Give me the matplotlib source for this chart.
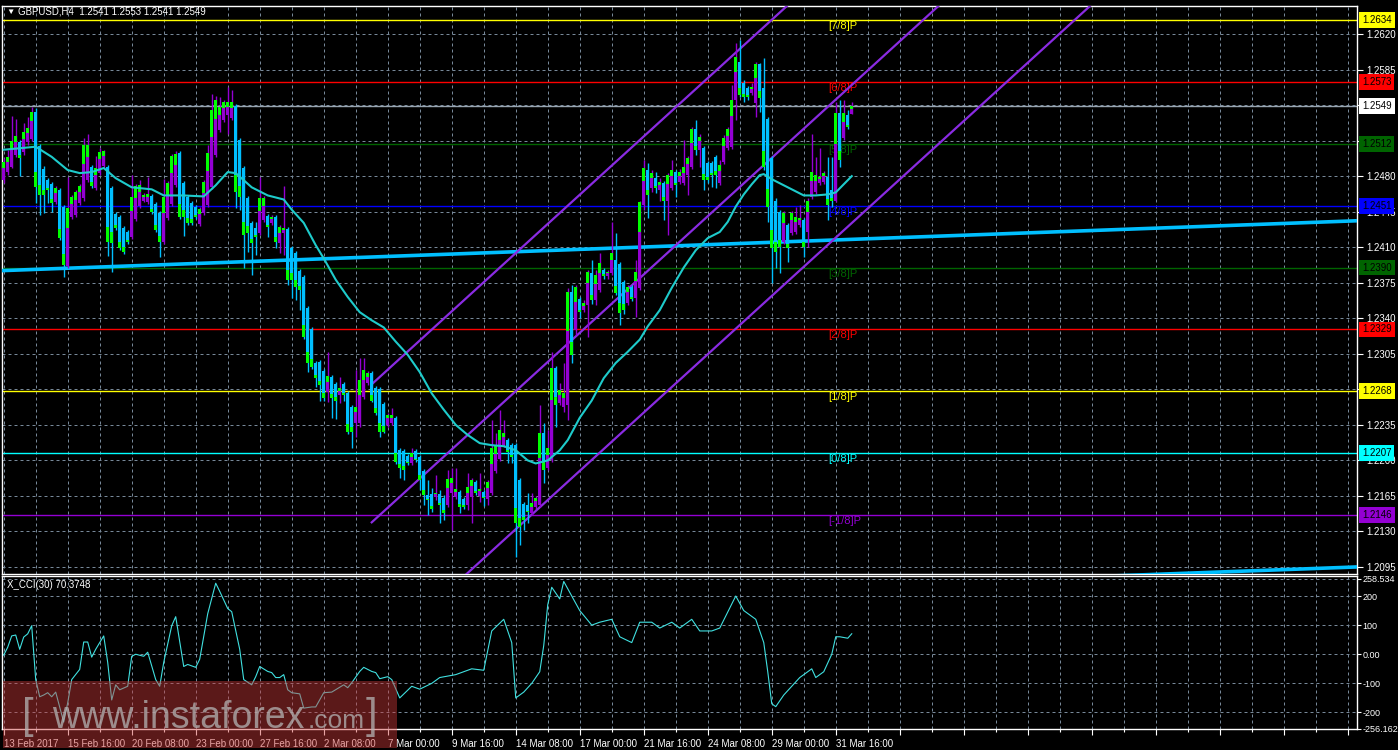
import matplotlib
matplotlib.use("Agg")
import matplotlib.pyplot as plt
from matplotlib.patches import Rectangle
from matplotlib.transforms import blended_transform_factory
import numpy as np

# ---- GBPUSD H4 candles (13 Feb 2017 00:00 .. 3 Apr 2017 08:00) ----
opens = [1.2476, 1.2484, 1.2489, 1.2501, 1.2514, 1.2504, 1.2514, 1.2517, 1.2543, 1.2510,
         1.2487, 1.2476, 1.2472, 1.2455, 1.2466, 1.2450, 1.2391, 1.2440, 1.2442, 1.2454,
         1.2458, 1.2476, 1.2489, 1.2468, 1.2483, 1.2490, 1.2489, 1.2468, 1.2443, 1.2440,
         1.2429, 1.2425, 1.2420, 1.2438, 1.2451, 1.2456, 1.2455, 1.2460, 1.2453, 1.2444,
         1.2415, 1.2439, 1.2453, 1.2471, 1.2503, 1.2473, 1.2459, 1.2454, 1.2450, 1.2433,
         1.2444, 1.2452, 1.2469, 1.2501, 1.2525, 1.2535, 1.2540, 1.2537, 1.2549, 1.2516,
         1.2488, 1.2458, 1.2434, 1.2429, 1.2424, 1.2437, 1.2441, 1.2434, 1.2440, 1.2414,
         1.2424, 1.2428, 1.2409, 1.2404, 1.2387, 1.2381, 1.2350, 1.2329, 1.2296, 1.2297,
         1.2288, 1.2267, 1.2282, 1.2275, 1.2264, 1.2275, 1.2266, 1.2253, 1.2237, 1.2237,
         1.2262, 1.2276, 1.2286, 1.2271, 1.2270, 1.2256, 1.2235, 1.2237, 1.2242, 1.2210,
         1.2209, 1.2204, 1.2197, 1.2209, 1.2203, 1.2190, 1.2166, 1.2167, 1.2164, 1.2167,
         1.2163, 1.2156, 1.2168, 1.2164, 1.2169, 1.2162, 1.2156, 1.2164, 1.2179, 1.2165,
         1.2169, 1.2162, 1.2168, 1.2190, 1.2201, 1.2215, 1.2220, 1.2215, 1.2215, 1.2181,
         1.2157, 1.2156, 1.2148, 1.2154, 1.2156, 1.2227, 1.2193, 1.2200, 1.2291, 1.2257,
         1.2253, 1.2255, 1.2366, 1.2328, 1.2359, 1.2348, 1.2353, 1.2385, 1.2358, 1.2368,
         1.2388, 1.2382, 1.2385, 1.2397, 1.2393, 1.2376, 1.2355, 1.2371, 1.2360, 1.2370,
         1.2452, 1.2486, 1.2468, 1.2478, 1.2466, 1.2473, 1.2456, 1.2468, 1.2484, 1.2474,
         1.2473, 1.2481, 1.2489, 1.2526, 1.2506, 1.2508, 1.2493, 1.2493, 1.2499, 1.2473,
         1.2494, 1.2508, 1.2509, 1.2555, 1.2592, 1.2572, 1.2567, 1.2562, 1.2552, 1.2590,
         1.2567, 1.2536, 1.2498, 1.2456, 1.2445, 1.2415, 1.2432, 1.2424, 1.2425, 1.2432,
         1.2437, 1.2425, 1.2459, 1.2464, 1.2473, 1.2474, 1.2479, 1.2466, 1.2456, 1.2542,
         1.2518, 1.2540, 1.2541]
highs = [1.2498, 1.2506, 1.2539, 1.2536, 1.2516, 1.2532, 1.2538, 1.2548, 1.2547, 1.2512,
         1.2490, 1.2478, 1.2474, 1.2470, 1.2468, 1.2452, 1.2479, 1.2461, 1.2466, 1.2472,
         1.2518, 1.2522, 1.2491, 1.2500, 1.2508, 1.2506, 1.2491, 1.2470, 1.2445, 1.2442,
         1.2431, 1.2427, 1.2481, 1.2472, 1.2476, 1.2463, 1.2479, 1.2462, 1.2455, 1.2446,
         1.2477, 1.2475, 1.2502, 1.2505, 1.2505, 1.2475, 1.2461, 1.2456, 1.2452, 1.2450,
         1.2476, 1.2511, 1.2561, 1.2559, 1.2558, 1.2555, 1.2568, 1.2565, 1.2551, 1.2518,
         1.2490, 1.2460, 1.2436, 1.2435, 1.2479, 1.2460, 1.2443, 1.2442, 1.2442, 1.2432,
         1.2470, 1.2430, 1.2411, 1.2406, 1.2389, 1.2383, 1.2352, 1.2331, 1.2298, 1.2299,
         1.2290, 1.2307, 1.2284, 1.2277, 1.2282, 1.2277, 1.2268, 1.2255, 1.2289, 1.2301,
         1.2301, 1.2288, 1.2288, 1.2273, 1.2272, 1.2258, 1.2247, 1.2252, 1.2244, 1.2212,
         1.2211, 1.2206, 1.2212, 1.2211, 1.2205, 1.2192, 1.2181, 1.2173, 1.2186, 1.2171,
         1.2166, 1.2191, 1.2193, 1.2193, 1.2171, 1.2164, 1.2188, 1.2183, 1.2181, 1.2188,
         1.2171, 1.2181, 1.2240, 1.2227, 1.2250, 1.2240, 1.2222, 1.2217, 1.2217, 1.2183,
         1.2159, 1.2168, 1.2168, 1.2165, 1.2255, 1.2237, 1.2230, 1.2307, 1.2293, 1.2276,
         1.2296, 1.2370, 1.2373, 1.2373, 1.2361, 1.2358, 1.2388, 1.2397, 1.2388, 1.2404,
         1.2390, 1.2388, 1.2435, 1.2424, 1.2395, 1.2378, 1.2373, 1.2373, 1.2397, 1.2456,
         1.2496, 1.2493, 1.2486, 1.2484, 1.2478, 1.2475, 1.2483, 1.2496, 1.2486, 1.2487,
         1.2516, 1.2500, 1.2528, 1.2535, 1.2522, 1.2510, 1.2495, 1.2495, 1.2501, 1.2496,
         1.2521, 1.2528, 1.2570, 1.2611, 1.2614, 1.2575, 1.2569, 1.2572, 1.2592, 1.2591,
         1.2596, 1.2538, 1.2500, 1.2458, 1.2447, 1.2446, 1.2434, 1.2446, 1.2450, 1.2452,
         1.2439, 1.2458, 1.2522, 1.2499, 1.2508, 1.2485, 1.2499, 1.2499, 1.2553, 1.2555,
         1.2555, 1.2545, 1.2553]
lows = [1.2473, 1.2481, 1.2488, 1.2499, 1.2480, 1.2501, 1.2511, 1.2515, 1.2454, 1.2442,
        1.2444, 1.2454, 1.2445, 1.2453, 1.2417, 1.2381, 1.2390, 1.2438, 1.2440, 1.2452,
        1.2456, 1.2474, 1.2468, 1.2466, 1.2481, 1.2488, 1.2401, 1.2386, 1.2427, 1.2407,
        1.2403, 1.2413, 1.2418, 1.2436, 1.2449, 1.2455, 1.2453, 1.2443, 1.2425, 1.2400,
        1.2413, 1.2437, 1.2451, 1.2469, 1.2438, 1.2421, 1.2432, 1.2432, 1.2438, 1.2431,
        1.2442, 1.2450, 1.2467, 1.2499, 1.2523, 1.2533, 1.2522, 1.2535, 1.2449, 1.2447,
        1.2390, 1.2405, 1.2383, 1.2402, 1.2422, 1.2435, 1.2420, 1.2432, 1.2409, 1.2404,
        1.2402, 1.2373, 1.2360, 1.2358, 1.2348, 1.2320, 1.2287, 1.2290, 1.2272, 1.2259,
        1.2259, 1.2258, 1.2242, 1.2241, 1.2257, 1.2259, 1.2226, 1.2212, 1.2223, 1.2233,
        1.2260, 1.2274, 1.2258, 1.2245, 1.2223, 1.2227, 1.2233, 1.2235, 1.2196, 1.2183,
        1.2181, 1.2195, 1.2195, 1.2198, 1.2171, 1.2156, 1.2146, 1.2149, 1.2161, 1.2138,
        1.2141, 1.2154, 1.2131, 1.2162, 1.2148, 1.2152, 1.2151, 1.2138, 1.2166, 1.2159,
        1.2155, 1.2156, 1.2166, 1.2188, 1.2199, 1.2213, 1.2197, 1.2197, 1.2105, 1.2117,
        1.2131, 1.2138, 1.2146, 1.2152, 1.2154, 1.2178, 1.2191, 1.2198, 1.2233, 1.2255,
        1.2248, 1.2240, 1.2296, 1.2324, 1.2340, 1.2346, 1.2322, 1.2354, 1.2353, 1.2366,
        1.2379, 1.2379, 1.2383, 1.2363, 1.2333, 1.2344, 1.2353, 1.2357, 1.2341, 1.2368,
        1.2447, 1.2439, 1.2464, 1.2463, 1.2456, 1.2437, 1.2422, 1.2466, 1.2459, 1.2472,
        1.2471, 1.2461, 1.2487, 1.2501, 1.2489, 1.2466, 1.2473, 1.2469, 1.2468, 1.2471,
        1.2492, 1.2506, 1.2507, 1.2535, 1.2558, 1.2553, 1.2555, 1.2560, 1.2538, 1.2543,
        1.2486, 1.2435, 1.2375, 1.2390, 1.2385, 1.2413, 1.2395, 1.2422, 1.2423, 1.2430,
        1.2400, 1.2410, 1.2457, 1.2462, 1.2471, 1.2472, 1.2437, 1.2450, 1.2455, 1.2489,
        1.2516, 1.2526, 1.2541]
closes = [1.2494, 1.2499, 1.2515, 1.2520, 1.2498, 1.2523, 1.2527, 1.2543, 1.2469, 1.2461,
          1.2461, 1.2466, 1.2454, 1.2468, 1.2419, 1.2392, 1.2449, 1.2459, 1.2464, 1.2470,
          1.2511, 1.2511, 1.2470, 1.2488, 1.2504, 1.2505, 1.2415, 1.2414, 1.2429, 1.2409,
          1.2405, 1.2415, 1.2459, 1.2470, 1.2471, 1.2461, 1.2462, 1.2445, 1.2427, 1.2415,
          1.2459, 1.2473, 1.2500, 1.2502, 1.2440, 1.2440, 1.2434, 1.2434, 1.2440, 1.2448,
          1.2474, 1.2503, 1.2545, 1.2555, 1.2548, 1.2553, 1.2553, 1.2553, 1.2464, 1.2459,
          1.2422, 1.2424, 1.2414, 1.2420, 1.2458, 1.2458, 1.2430, 1.2440, 1.2415, 1.2430,
          1.2429, 1.2378, 1.2378, 1.2371, 1.2368, 1.2322, 1.2296, 1.2292, 1.2281, 1.2274,
          1.2261, 1.2283, 1.2261, 1.2259, 1.2271, 1.2264, 1.2228, 1.2228, 1.2253, 1.2279,
          1.2289, 1.2286, 1.2259, 1.2247, 1.2228, 1.2228, 1.2245, 1.2245, 1.2198, 1.2193,
          1.2191, 1.2197, 1.2207, 1.2200, 1.2181, 1.2166, 1.2161, 1.2152, 1.2168, 1.2156,
          1.2148, 1.2182, 1.2183, 1.2172, 1.2154, 1.2154, 1.2174, 1.2181, 1.2168, 1.2172,
          1.2163, 1.2179, 1.2212, 1.2215, 1.2230, 1.2227, 1.2208, 1.2203, 1.2138, 1.2134,
          1.2141, 1.2149, 1.2158, 1.2163, 1.2227, 1.2191, 1.2212, 1.2291, 1.2255, 1.2269,
          1.2266, 1.2366, 1.2304, 1.2371, 1.2346, 1.2355, 1.2386, 1.2358, 1.2383, 1.2394,
          1.2382, 1.2386, 1.2404, 1.2365, 1.2345, 1.2348, 1.2371, 1.2359, 1.2386, 1.2455,
          1.2488, 1.2461, 1.2483, 1.2468, 1.2474, 1.2456, 1.2481, 1.2486, 1.2471, 1.2484,
          1.2489, 1.2498, 1.2526, 1.2506, 1.2519, 1.2476, 1.2476, 1.2481, 1.2481, 1.2491,
          1.2518, 1.2526, 1.2555, 1.2597, 1.2560, 1.2558, 1.2558, 1.2568, 1.2590, 1.2557,
          1.2489, 1.2450, 1.2409, 1.2405, 1.2410, 1.2444, 1.2409, 1.2444, 1.2440, 1.2439,
          1.2410, 1.2456, 1.2484, 1.2481, 1.2479, 1.2483, 1.2452, 1.2456, 1.2542, 1.2496,
          1.2542, 1.2528, 1.2549]

# moving average (bar index, price)
ma_bars = [0, 8, 12, 16, 19, 22, 25, 28, 32, 37, 40, 45, 50, 53, 56, 58, 62, 66, 70, 72,
           75, 78, 80, 83, 86, 89, 92, 95, 98, 101, 104, 107, 110, 113, 116, 119, 122, 125, 128, 131,
           133, 136, 139, 141, 144, 147, 150, 153, 156, 159, 161, 164, 167, 170, 173, 176, 179, 181, 183, 185,
           187, 189, 190, 192, 194, 196, 198, 200, 203, 206, 208, 210, 212]
ma_vals = [1.2506, 1.2509, 1.2499, 1.2486, 1.2483, 1.2484, 1.2488, 1.2478, 1.2469, 1.2467,
           1.2461, 1.2461, 1.2460, 1.2471, 1.2484, 1.2483, 1.2469, 1.2461, 1.2457, 1.2447,
           1.2434, 1.2412, 1.2399, 1.2378, 1.2361, 1.2346, 1.2338, 1.2331, 1.2317, 1.2304,
           1.2287, 1.2266, 1.2250, 1.2235, 1.2225, 1.2217, 1.2215, 1.2214, 1.2210, 1.2200,
           1.2197, 1.2200, 1.2210, 1.2220, 1.2242, 1.2259, 1.2281, 1.2296, 1.2307, 1.2319,
           1.2332, 1.2348, 1.2370, 1.2390, 1.2407, 1.2419, 1.2425, 1.2435, 1.2450, 1.2462,
           1.2472, 1.2481, 1.2482, 1.2477, 1.2473, 1.2469, 1.2465, 1.2461, 1.2461, 1.2462,
           1.2464, 1.2472, 1.2480]

# X_CCI(30) (bar index, value)
cci_bars = [0, 1, 2, 3, 4, 5, 6, 7, 8, 9, 10, 11, 12, 13, 15, 16, 17, 19, 20, 21,
            22, 23, 25, 26, 27, 28, 29, 31, 32, 33, 35, 36, 38, 39, 40, 42, 43, 45, 46, 48,
            49, 51, 53, 54, 56, 57, 59, 60, 62, 63, 64, 66, 67, 68, 69, 70, 71, 72, 74, 75,
            77, 78, 80, 82, 85, 86, 87, 89, 90, 92, 93, 94, 96, 97, 99, 102, 104, 107, 109, 113,
            117, 120, 122, 125, 127, 128, 130, 132, 134, 135, 136, 137, 139, 140, 142, 144, 147, 149, 152, 154,
            157, 159, 162, 164, 167, 169, 172, 174, 177, 179, 183, 185, 188, 190, 191, 192, 193, 195, 197, 199,
            202, 203, 205, 207, 208, 209, 211, 212]
cci_vals = [-3, 24, 63, 66, 17, 59, 70, 98, -87, -146, -140, -132, -146, -130, -233, -167, -87, -52, 42, 42,
            -10, 17, 63, -28, -157, -105, -122, -110, -7, 0, -7, 7, -87, -110, -28, 98, 129, -42, -35, -45,
            -17, 139, 244, 216, 157, 146, 17, -87, -105, -77, -42, -59, -63, -80, -80, -70, -122, -132, -136, -185,
            -181, -181, -132, -130, -105, -115, -98, -59, -45, -59, -63, -84, -77, -87, -150, -110, -120, -100, -80, -70,
            -50, -55, 80, 120, 40, -150, -130, -100, -60, 30, 170, 230, 190, 250, 200, 150, 100, 110, 120, 60,
            40, 110, 110, 90, 110, 90, 120, 80, 80, 90, 200, 150, 120, 40, -60, -170, -180, -140, -110, -80,
            -50, -80, -60, 0, 60, 60, 55, 70.37]

# Murrey math levels
mm_levels = [1.2634, 1.2573, 1.2512, 1.2451, 1.2390, 1.2329, 1.2268, 1.2207, 1.2146]
mm_names = ["[7/8]P", "[6/8]P", "[5/8]P", "[4/8]P", "[3/8]P", "[2/8]P", "[1/8]P", "[0/8]P", "[-1/8]P"]
mm_colors = ["#ffff00", "#ff0000", "#006400", "#0000ff", "#006400", "#ff0000", "#ffff00", "#00ffff", "#9400d3"]
bid = 1.2549

# regression channel (from bar 92) and long trendline
chan_bar0 = 92
chan_mid0 = 1.2139
chan_width = 0.0136
chan_slope = 0.000359
trend0 = 1.2387
trend_slope = 0.0000145
trend_offset = -0.0341

xlabels = ["13 Feb 2017", "15 Feb 16:00", "20 Feb 08:00", "23 Feb 00:00", "27 Feb 16:00",
           "2 Mar 08:00", "7 Mar 00:00", "9 Mar 16:00", "14 Mar 08:00", "17 Mar 00:00",
           "21 Mar 16:00", "24 Mar 08:00", "29 Mar 00:00", "31 Mar 16:00"]
price_ticks = [1.2095, 1.2130, 1.2165, 1.2200, 1.2235, 1.2270, 1.2305, 1.2340, 1.2375,
               1.2410, 1.2445, 1.2480, 1.2515, 1.2550, 1.2585, 1.2620]
hidden_ticks = [1.2270, 1.2515, 1.2550]   # covered by level boxes on the chart
cci_ticks = [258.534, 200, 100, 0, -100, -200, -256.162]
cci_ticklabels = ["258.534", "200", "100", "0.00", "-100", "-200", "-256.162"]

plt.rcParams['font.family'] = ['Liberation Sans', 'DejaVu Sans']
FS = 7
GRID = "#778899"
W, H = 1398, 750

fig = plt.figure(figsize=(W / 100, H / 100), dpi=100, facecolor="black")


def px_axes(x0, y0, x1, y1):
    return fig.add_axes([x0 / W, 1 - y1 / H, (x1 - x0) / W, (y1 - y0) / H])


ax = px_axes(2, 6, 1357, 574)
cx = px_axes(2, 576, 1357, 729)
XMAX = 338.3
for a in (ax, cx):
    a.set_facecolor("black")
    a.set_xlim(-0.425, XMAX)
    for s in a.spines.values():
        s.set_color("white")
        s.set_linewidth(1)
    a.set_xticks(np.arange(0, XMAX, 16))
    a.set_xticks(np.arange(8, XMAX, 16), minor=True)
    a.grid(True, which="both", axis="x", color=GRID, lw=0.72, ls=(0, (3, 3)))
    a.grid(True, which="major", axis="y", color=GRID, lw=0.72, ls=(0, (3, 3)))
    a.yaxis.tick_right()
    a.tick_params(axis="y", which="both", length=4, width=0.8, color="white",
                  labelcolor="white", labelsize=FS, pad=3)
    a.set_axisbelow(True)

# ---- main panel ----
ax.set_ylim(1.20881, 1.26476)
ax.set_yticks(price_ticks)
ax.set_yticklabels(["" if t in hidden_ticks else "%.4f" % t for t in price_ticks])
ax.tick_params(axis="x", which="both", length=0, labelbottom=False)

o = np.array(opens)
h = np.array(highs)
l = np.array(lows)
c = np.array(closes)
h = np.maximum(h, np.maximum(o, c))
l = np.minimum(l, np.minimum(o, c))
x = np.arange(len(c))
up = c >= o
col = np.where(up, "#9400d3", "#00bfff")
lo = np.minimum(o, c)
body = np.maximum(np.abs(c - o), 0.00008)

# horizontal levels
for lev, name, cl in zip(mm_levels, mm_names, mm_colors):
    ax.axhline(lev, color=cl, lw=1, zorder=2)
    ax.text(206, lev - 0.0001, name, color=cl, fontsize=FS + 1, va="top", ha="left", zorder=2)
ax.axhline(bid, color="#98a4b0", lw=1, zorder=2)

# long trendline and its parallel
tx = np.array([-1, XMAX + 1])
ax.plot(tx, trend0 + trend_slope * tx, color="#00bfff", lw=2.6, zorder=3, solid_capstyle="butt")
ax.plot(tx, trend0 + trend_offset + trend_slope * tx, color="#00bfff", lw=2.6, zorder=3)

# regression channel
cxs = np.array([chan_bar0, XMAX + 5])
for k in (1, 0, -1):
    ax.plot(cxs, chan_mid0 + k * chan_width + chan_slope * (cxs - chan_bar0),
            color="#8a2be2", lw=1.6, zorder=4)

# candles
ax.vlines(x, l, h, colors=col, lw=1, zorder=5)
ax.bar(x, body, bottom=lo, width=0.8, color=col, lw=0, zorder=6)
gl = np.where(up, c - 0.35 * body, lo)
ax.bar(x, np.where(up, 0.35 * body, 0.2 * body), bottom=gl, width=0.8, color="#00ff00", lw=0, zorder=6)

# moving average
ax.plot(ma_bars, ma_vals, color="#1ecbcb", lw=1.5, zorder=7)

# value boxes on the price scale
bt = blended_transform_factory(ax.transAxes, ax.transData)
box_vals = mm_levels + [bid]
box_cols = mm_colors + ["#ffffff"]
for v, bc in zip(box_vals, box_cols):
    ax.text(1 + 5 / 1355, v, "%.4f" % v, transform=bt, fontsize=FS, color="black",
            va="center", ha="left", clip_on=False, zorder=20,
            bbox=dict(boxstyle="square,pad=0.3", fc=bc, ec="none"))

# ---- CCI panel ----
cx.set_ylim(-256.7, 268.7)
cx.set_yticks(cci_ticks)
cx.set_yticklabels(cci_ticklabels)
cx.tick_params(axis="y", length=3, pad=1, labelsize=6.5)
cx.plot(cci_bars, cci_vals, color="#40e0e0", lw=0.8, zorder=5)
cx.tick_params(axis="x", which="major", length=4, width=0.8, color="white",
               labelcolor="white", labelsize=FS, pad=3)
cx.tick_params(axis="x", which="minor", length=2, width=0.8, color="white")
cx.set_xticklabels(xlabels + [""] * (len(cx.get_xticks()) - len(xlabels)), ha="left")

# ---- texts ----
fig.text(6 / W, 1 - 12 / H, "\u25bc", color="white", fontsize=6, va="center", ha="left")
fig.text(18 / W, 1 - 12 / H, "GBPUSD,H4  1.2541 1.2553 1.2541 1.2549", color="white",
         fontsize=FS, va="center", ha="left")
fig.text(7 / W, 1 - 585 / H, "X_CCI(30) 70.3748", color="white", fontsize=FS, va="center", ha="left")

# watermark
fig.add_artist(Rectangle((3 / W, 1 - 748 / H), 394 / W, 67 / H, transform=fig.transFigure,
                         fc=(0.8, 0.22, 0.22), ec="none", alpha=0.45, zorder=30))
wm = dict(color="#b4b4b4", alpha=0.75, va="baseline", ha="left", zorder=31)
fig.text(22 / W, 1 - 728 / H, "[", fontsize=30, **wm)
fig.text(52 / W, 1 - 728 / H, "www.instaforex", fontsize=27, **wm)
fig.text(308 / W, 1 - 728 / H, ".com", fontsize=19, **wm)
fig.text(366 / W, 1 - 728 / H, "]", fontsize=30, **wm)

fig.savefig("out.png", dpi=100, facecolor="black")
